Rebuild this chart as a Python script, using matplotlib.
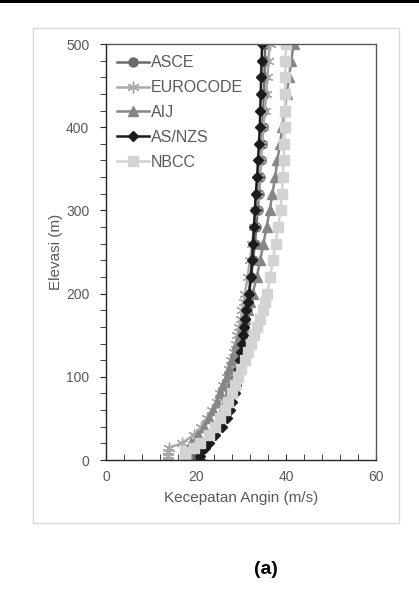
import numpy as np
import matplotlib
matplotlib.use('Agg')
import matplotlib.pyplot as plt
from matplotlib.patches import Rectangle

plt.rcParams['font.family'] = ['Liberation Sans', 'DejaVu Sans']

# elevation (m)
elevasi = [0, 5, 10, 15, 20, 30, 40, 50, 60, 70, 80, 90, 100, 110, 120, 130,
           140, 150, 160, 170, 180, 190, 200, 220, 240, 260, 280, 300, 320,
           340, 360, 380, 400, 420, 440, 460, 480, 500]

# wind speed (m/s) per code
asce = [19.2, 19.2, 19.5, 20.8, 21.8, 23.3, 24.5, 25.5, 26.3, 27.0, 27.6, 28.1,
        28.6, 29.0, 29.4, 29.8, 30.1, 30.4, 30.7, 31.0, 31.3, 31.6, 31.8, 32.3,
        32.7, 33.1, 33.4, 33.7, 34.0, 34.2, 34.4, 34.6, 34.8, 35.0, 35.1, 35.2,
        35.3, 35.4]
eurocode = [13.8, 13.8, 13.8, 14.0, 16.8, 19.5, 21.2, 22.5, 23.6, 24.6, 25.4,
            26.1, 26.8, 27.4, 27.9, 28.4, 28.8, 29.2, 29.6, 30.0, 30.3, 30.6,
            30.9, 31.5, 32.0, 32.5, 32.9, 33.3, 33.7, 34.0, 34.4, 34.7, 35.0,
            35.3, 35.6, 35.9, 36.1, 36.4]
aij = [18.0, 18.0, 18.0, 18.5, 19.0, 20.5, 21.8, 22.8, 23.8, 24.6, 25.4, 26.1,
       26.8, 27.4, 28.0, 28.6, 29.2, 29.8, 30.4, 31.0, 31.6, 32.1, 32.6, 33.5,
       34.3, 35.0, 35.7, 36.4, 37.0, 37.6, 38.1, 38.7, 39.2, 39.7, 40.2, 40.7,
       41.2, 41.7]
asnzs = [20.8, 20.8, 21.0, 22.0, 22.8, 24.3, 25.8, 26.9, 27.6, 28.1, 28.6, 29.0,
         29.4, 29.6, 29.8, 30.0, 30.3, 30.5, 30.7, 30.9, 31.2, 31.5, 31.8, 32.2,
         32.5, 32.7, 32.9, 33.1, 33.3, 33.6, 33.8, 34.0, 34.2, 34.3, 34.4, 34.5,
         34.6, 34.7]
nbcc = [17.5, 17.5, 17.5, 19.5, 20.8, 22.8, 24.2, 25.4, 26.4, 27.2, 28.0, 28.7,
        29.4, 30.1, 30.8, 31.5, 32.2, 32.9, 33.6, 34.2, 34.8, 35.3, 35.8, 36.5,
        37.1, 37.7, 38.3, 38.8, 39.1, 39.3, 39.5, 39.6, 39.7, 39.8, 39.8, 39.9,
        39.9, 40.0]

series = [
    ('ASCE', asce, '#6b6b6b', 'o', 6.5),
    ('EUROCODE', eurocode, '#a9a9a9', (6, 2, 0), 8.5),
    ('AIJ', aij, '#868686', '^', 6.5),
    ('AS/NZS', asnzs, '#1c1c1c', 'D', 5.5),
    ('NBCC', nbcc, '#d3d3d3', 's', 6.5),
]

axis_col = '#595959'

fig = plt.figure(figsize=(4.19, 5.90), dpi=100)
fig.patches.append(Rectangle((0.0788, 0.1136), 0.952 - 0.0788, 0.9525 - 0.1136,
                             transform=fig.transFigure, fill=False,
                             edgecolor='#d9d9d9', linewidth=1.0))
fig.patches.append(Rectangle((0, 0.995), 1, 0.005, transform=fig.transFigure,
                             facecolor='black', edgecolor='none'))

ax = fig.add_axes([0.253, 0.2203, 0.644, 0.7051])

for name, vals, col, mk, ms in series:
    ax.plot(vals, elevasi, color=col, marker=mk, markersize=ms,
            markeredgecolor=col, markerfacecolor=col, linewidth=1.8,
            label=name)

ax.set_xlim(0, 60)
ax.set_ylim(0, 500)
ax.set_xticks([0, 20, 40, 60])
ax.set_xticks(np.arange(0, 61, 4), minor=True)
ax.set_yticks([0, 100, 200, 300, 400, 500])
ax.set_yticks(np.arange(0, 501, 20), minor=True)

for s in ax.spines.values():
    s.set_color(axis_col)
    s.set_linewidth(1.0)
ax.spines['bottom'].set_color('#262626')
ax.spines['left'].set_color('#262626')

ax.tick_params(axis='x', which='both', direction='in', length=4,
               color='#262626', labelcolor=axis_col, labelsize=10, pad=7)
ax.tick_params(axis='y', which='both', direction='out', length=4,
               color='#262626', labelcolor=axis_col, labelsize=10, pad=8)

ax.set_xlabel('Kecepatan Angin (m/s)', fontsize=11, color=axis_col, labelpad=5)
ax.set_ylabel('Elevasi (m)', fontsize=11, color=axis_col, labelpad=2)

leg = ax.legend(loc='upper left', frameon=False, fontsize=11.5,
                handlelength=2.0, handletextpad=0.1, labelspacing=0.62,
                borderaxespad=0.4, borderpad=0.3)
for t in leg.get_texts():
    t.set_color(axis_col)

fig.text(0.635, 0.034, '(a)', fontsize=14, fontweight='bold',
         ha='center', va='center', color='black')

fig.savefig('out.png', dpi=100)
